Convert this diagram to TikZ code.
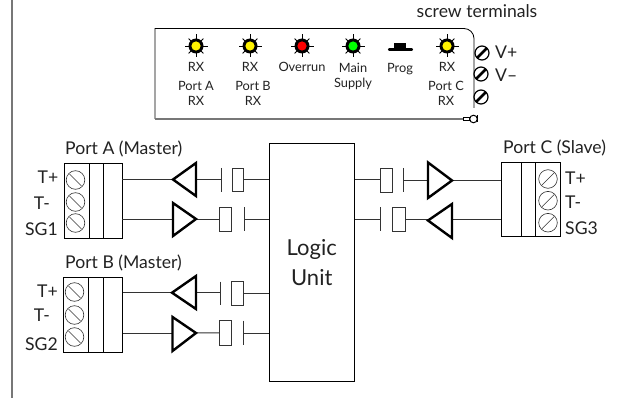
\documentclass[tikz,border=0pt]{standalone}
\usepackage{fontspec}
\setmainfont{Lato}
\definecolor{ink}{HTML}{222222}
\definecolor{wire}{HTML}{333333}
\definecolor{frameg}{HTML}{777777}
\tikzset{
  x=1pt,y=-1pt,
  lab/.style={font=\fontsize{17.6}{18}\selectfont,text=ink,inner sep=0pt,anchor=base west},
  labr/.style={lab,anchor=base east},
  small/.style={font=\fontsize{12.8}{13}\selectfont,text=ink,inner sep=0pt,anchor=center},
  wirel/.style={draw=wire,line width=1pt},
  buf/.style={draw=black,line width=2.4pt,fill=white,line join=miter},
  capbox/.style={draw=wire,line width=.9pt,fill=white},
  plate/.style={draw=wire,line width=1pt},
  termbox/.style={draw=black,line width=.9pt,fill=white},
  tscrew/.style={draw=wire,line width=.6pt},
}
\newcommand{\led}[3]{% x y colour
  \begin{scope}[shift={(#1,#2)}]
    \foreach \a in {0,45,...,315}{\draw[black,line width=.8pt] (\a:7) -- (\a:{mod(\a,90)==0?11.5:10.5});}
    \fill[black] (0,0) circle[radius=7.5];
    \fill[#3] (0,0) circle[radius=4.6];
  \end{scope}}
\newcommand{\pscrew}[2]{% panel screw
  \begin{scope}[shift={(#1,#2)}]
    \draw[black,line width=1.2pt,fill=white] (0,0) circle[radius=7];
    \draw[black,line width=2.6pt] (-4.8,4.8) -- (4.8,-4.8);
  \end{scope}}
\newcommand{\tscr}[3]{% terminal screw, slope sign
  \begin{scope}[shift={(#1,#2)}]
    \draw[tscrew] (0,0) circle[radius=9.3];
    \draw[tscrew] (-6*#3,-6) -- (6*#3,6);
  \end{scope}}
\newcommand{\boxn}[5]{% name x1 y1 x2 y2
  \node[capbox,minimum width={#4-#2},minimum height={#5-#3},inner sep=0pt,outer sep=0pt] (#1) at ({(#2+#4)/2},{(#3+#5)/2}) {};}
\begin{document}
\begin{tikzpicture}
\useasboundingbox (0,0) rectangle (618,398);
% page rule
\draw[frameg,line width=2pt] (12,0) -- (12,398);
% panel
\draw[black,line width=.8pt] (155,119) -- (155,28.5) -- (464,28.5) arc[start angle=270,end angle=360,radius=10] -- (474,108);
\draw[frameg,line width=2pt] (155,119) -- (463,119);
\draw[black,line width=.8pt,fill=white] (463,117.5) rectangle (469,120.5);
\draw[black,line width=1pt,fill=white] (473.5,119) circle[radius=3.8];
\draw[black,line width=1pt] (477.5,115.5) -- (477.5,122.5);
\led{196}{46}{yellow}
\led{250}{46}{yellow}
\led{302}{46}{red}
\led{353}{46}{green}
\led{447}{46}{yellow}
\fill[black] (394,43) rectangle (406,49);
\draw[black,line width=2.2pt,line cap=round] (389,49.5) -- (412,49.5);
\node[small] (t1) at (196,67) {RX};
\node[small] (t2) at (196,86) {Port A};
\node[small] (t3) at (196,101) {RX};
\node[small] (t4) at (250,67) {RX};
\node[small] (t5) at (253,86) {Port B};
\node[small] (t6) at (253,101) {RX};
\node[small] (t7) at (302,67) {Overrun};
\node[small] (t8) at (353,68) {Main};
\node[small] (t9) at (353,84) {Supply};
\node[small] (t10) at (400,69) {Prog};
\node[small] (t11) at (447,67) {RX};
\node[small] (t12) at (446,86) {Port C};
\node[small] (t13) at (446,101) {RX};
\node[lab,anchor=base] (st) at (477,18) {screw terminals};
\pscrew{482}{53}\pscrew{481}{74}\pscrew{481}{97}
\node[lab] (vp) at (495,59) {V+};
\node[lab] (vm) at (495,81.5) {V--};
% logic unit
\node[draw=black,line width=1pt,fill=white,minimum width=85.5pt,minimum height=237pt,inner sep=0pt,outer sep=0pt,align=center,font=\fontsize{22}{30}\selectfont,text=ink] (logic) at (311.75,262.5) {Logic\\Unit};
% Port A
\node[termbox,minimum width=58pt,minimum height=74.5pt,inner sep=0pt,outer sep=0pt] (ta) at (93,200.75) {};
\draw[termbox] (89,163.5) -- (89,238) (103.5,163.5) -- (103.5,238);
\tscr{75.5}{180}{1}\tscr{75.5}{202}{1}\tscr{75.5}{223}{1}
\node[lab] at (65,155) {Port A (Master)};
\node[labr] at (58.5,183) {T+};
\node[labr] at (50,209) {T-};
\node[labr] at (58,235) {SG1};
% Port B
\node[termbox,minimum width=59pt,minimum height=74.5pt,inner sep=0pt,outer sep=0pt] (tb) at (93,314.75) {};
\draw[termbox] (88.5,277.5) -- (88.5,352) (103,277.5) -- (103,352);
\tscr{74.5}{292}{1}\tscr{74.5}{315}{1}\tscr{74.5}{337}{1}
\node[lab] at (65,268) {Port B (Master)};
\node[labr] at (58,297) {T+};
\node[labr] at (50,321) {T-};
\node[labr] at (58,350) {SG2};
% Port C
\node[termbox,minimum width=59.5pt,minimum height=74.5pt,inner sep=0pt,outer sep=0pt] (tc) at (531,199.5) {};
\draw[termbox] (521,162.25) -- (521,236.75) (535.3,162.25) -- (535.3,236.75);
\tscr{548}{179}{-1}\tscr{548}{200.7}{-1}\tscr{548}{222.7}{-1}
\node[lab] at (503,154) {Port C (Slave)};
\node[lab] at (565,185) {T+};
\node[lab] at (565,208.5) {T-};
\node[lab] at (565,234.5) {SG3};
% coordinates of buffers and plates
\coordinate (a1tip) at (173,179.5);\coordinate (a1base) at (196,179.5);\coordinate (a1pl) at (221,179.5);
\coordinate (a2base) at (173,219);\coordinate (a2tip) at (196,219);\coordinate (a2pl) at (244,219);
\coordinate (b1tip) at (172,292.7);\coordinate (b1base) at (196,292.7);\coordinate (b1pl) at (220.5,292.7);
\coordinate (b2base) at (172.5,333);\coordinate (b2tip) at (196,333);\coordinate (b2pl) at (243,333);
\coordinate (c1base) at (428,180.5);\coordinate (c1tip) at (452,180.5);\coordinate (c1pl) at (403.3,180.5);
\coordinate (c2tip) at (428,219);\coordinate (c2base) at (452,219);\coordinate (c2pl) at (380.7,219);
\boxn{a1c}{232}{168}{243.5}{191.5}
\boxn{a2c}{219.5}{207}{231}{231}
\boxn{b1c}{231}{281.5}{243.5}{305}
\boxn{b2c}{219}{320.7}{231}{345}
\boxn{c1c}{380.7}{168}{392.7}{192}
\boxn{c2c}{392.7}{207}{405}{231}
% wires
\draw[wirel] (ta.east |- a1tip) -- (a1tip);
\draw[wirel] (a1base) -- (a1pl);
\draw[wirel] (a1c.east) -- (logic.west |- a1c.east);
\draw[wirel] (ta.east |- a2base) -- (a2base);
\draw[wirel] (a2tip) -- (a2c.west);
\draw[wirel] (a2pl) -- (logic.west |- a2pl);
\draw[wirel] (tb.east |- b1tip) -- (b1tip);
\draw[wirel] (b1base) -- (b1pl);
\draw[wirel] (b1c.east) -- (logic.west |- b1c.east);
\draw[wirel] (tb.east |- b2base) -- (b2base);
\draw[wirel] (b2tip) -- (b2c.west);
\draw[wirel] (b2pl) -- (logic.west |- b2pl);
\draw[wirel] (logic.east |- c1c.west) -- (c1c.west);
\draw[wirel] (c1pl) -- (c1base);
\draw[wirel] (c1tip) -- (tc.west |- c1tip);
\draw[wirel] (logic.east |- c2pl) -- (c2pl);
\draw[wirel] (c2c.east) -- (c2tip);
\draw[wirel] (c2base) -- (tc.west |- c2base);
% plates
\draw[plate] (221,168) -- (221,192);
\draw[plate] (244,207) -- (244,231);
\draw[plate] (220.5,281.5) -- (220.5,305);
\draw[plate] (243,320.7) -- (243,345);
\draw[plate] (403.3,168) -- (403.3,192);
\draw[plate] (380.7,207) -- (380.7,231);
% buffers
\draw[buf] (173,179.5) -- (196,163) -- (196,196) -- cycle;
\draw[buf] (196,219) -- (173,203) -- (173,236) -- cycle;
\draw[buf] (172,292.7) -- (196,276) -- (196,309) -- cycle;
\draw[buf] (196,333) -- (172.5,317) -- (172.5,351) -- cycle;
\draw[buf] (452,180.5) -- (428,162.5) -- (428,198) -- cycle;
\draw[buf] (428,220.5) -- (452,204) -- (452,238) -- cycle;
\end{tikzpicture}
\end{document}
